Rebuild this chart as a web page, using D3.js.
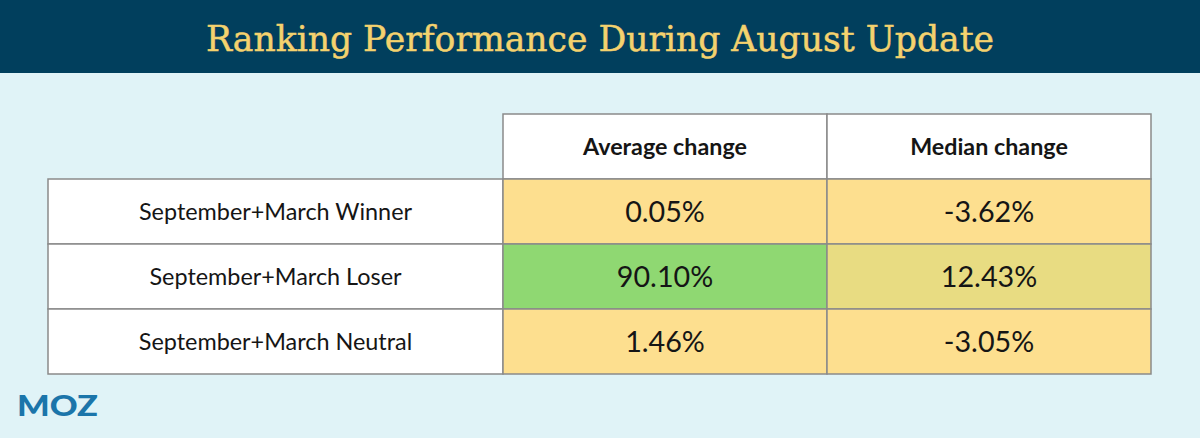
<!DOCTYPE html>
<html>
<head>
<meta charset="utf-8">
<script src="https://cdn.jsdelivr.net/npm/d3@7"></script>
<style>
  body { margin: 0; background: #e0f3f7; }
  svg { display: block; }
</style>
</head>
<body>
<div id="chart"></div>
<script>
// table data
var title = "Ranking Performance During August Update";
var columns = ["Average change", "Median change"];
var rowLabels = ["September+March Winner", "September+March Loser", "September+March Neutral"];
var averageChange = [0.05, 90.10, 1.46];
var medianChange = [-3.62, 12.43, -3.05];

var width = 1200, height = 438;

var svg = d3.select("#chart").append("svg")
  .attr("width", width)
  .attr("height", height);

svg.append("rect").attr("width", width).attr("height", height).attr("fill", "#e0f3f7");

// title band
svg.append("rect").attr("width", width).attr("height", 73).attr("fill", "#013f5d");
var t = svg.append("text")
  .attr("x", width / 2)
  .attr("y", 51)
  .attr("text-anchor", "middle")
  .attr("fill", "#f4d26e")
  .attr("stroke", "#f4d26e")
  .attr("stroke-width", 0.5)
  .style("font-family", "'Roboto Slab', 'DejaVu Serif', serif")
  .style("font-size", "36px")
  .text(title);
// fit title to the width it has in the picture
t.attr("textLength", 788).attr("lengthAdjust", "spacingAndGlyphs");

// scales
var y = d3.scaleBand().domain(["header"].concat(rowLabels)).range([114, 374]);
var x = d3.scaleBand().domain(columns).range([503, 1151]);
var labelX0 = 48, labelX1 = 503;

var color = d3.scaleThreshold()
  .domain([10, 50])
  .range(["#fddf8f", "#e8dc82", "#8fd872"]);

var border = "#8a8a8a";
var textColor = "#151515";

// header cells
columns.forEach(function(col) {
  svg.append("rect")
    .attr("x", x(col)).attr("y", y("header"))
    .attr("width", x.bandwidth()).attr("height", y.bandwidth())
    .attr("fill", "#fff").attr("stroke", border).attr("stroke-width", 1.5);
  svg.append("text")
    .attr("x", x(col) + x.bandwidth() / 2)
    .attr("y", y("header") + y.bandwidth() / 2 + 8)
    .attr("text-anchor", "middle")
    .attr("fill", textColor)
    .style("font-family", "Lato, sans-serif")
    .style("font-weight", "bold")
    .style("font-size", "23.3px")
    .text(col);
});

// rows
rowLabels.forEach(function(label, i) {
  var row = svg.append("g");
  row.append("rect")
    .attr("x", labelX0).attr("y", y(label))
    .attr("width", labelX1 - labelX0).attr("height", y.bandwidth())
    .attr("fill", "#fff").attr("stroke", border).attr("stroke-width", 1.5);
  row.append("text")
    .attr("x", (labelX0 + labelX1) / 2)
    .attr("y", y(label) + y.bandwidth() / 2 + 8)
    .attr("text-anchor", "middle")
    .attr("fill", textColor)
    .style("font-family", "Lato, sans-serif")
    .style("font-size", "23.4px")
    .text(label);

  [averageChange[i], medianChange[i]].forEach(function(value, j) {
    var col = columns[j];
    row.append("rect")
      .attr("x", x(col)).attr("y", y(label))
      .attr("width", x.bandwidth()).attr("height", y.bandwidth())
      .attr("fill", color(value)).attr("stroke", border).attr("stroke-width", 1.5);
    row.append("text")
      .attr("x", x(col) + x.bandwidth() / 2)
      .attr("y", y(label) + y.bandwidth() / 2 + 10)
      .attr("text-anchor", "middle")
      .attr("fill", textColor)
      .style("font-family", "Lato, sans-serif")
      .style("font-size", "28.7px")
      .text(value.toFixed(2) + "%");
  });
});

// logo
svg.append("text")
  .attr("x", 17)
  .attr("y", 416)
  .attr("fill", "#1b75aa")
  .style("font-family", "Lato, sans-serif")
  .style("font-weight", 900)
  .style("font-size", "29px")
  .attr("textLength", 81)
  .attr("lengthAdjust", "spacingAndGlyphs")
  .text("MOZ");
</script>
</body>
</html>
